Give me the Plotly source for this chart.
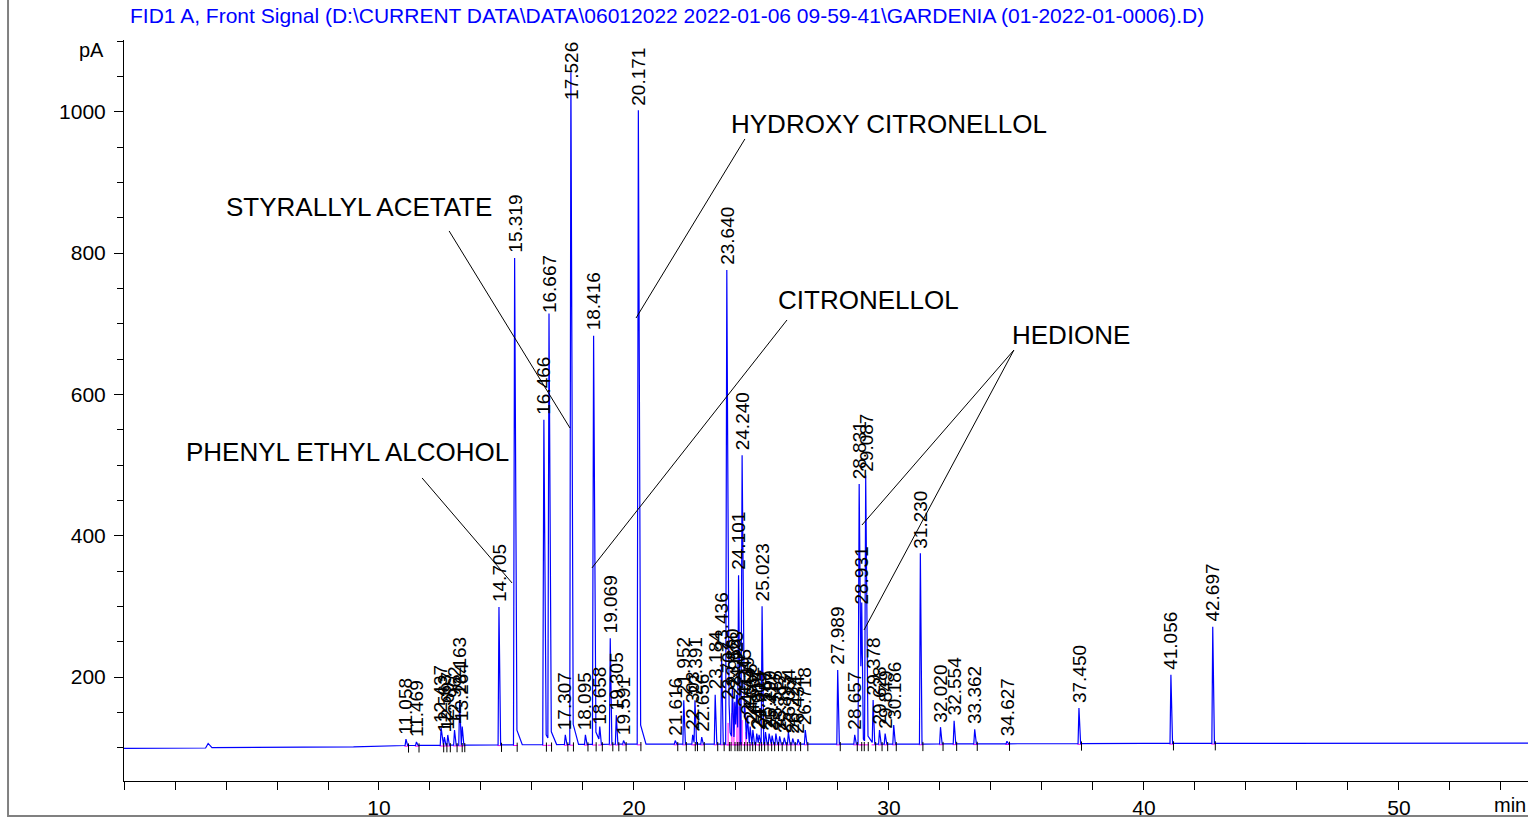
import numpy as np
import plotly.graph_objects as go

TITLE = ("FID1 A, Front Signal (D:\\CURRENT DATA\\DATA\\06012022 2022-01-06 09-59-41"
         "\\GARDENIA (01-2022-01-0006).D)")

# Peak retention times (min) and apex heights (pA)
PEAK_RT = [11.058, 11.469, 12.437, 12.563, 12.697, 12.962, 13.163, 13.264,
           14.705, 15.319, 16.466, 16.667, 17.307, 17.526, 18.095, 18.416,
           18.658, 19.069, 19.305, 19.591, 20.171, 21.616, 21.952, 22.303,
           22.391, 22.656, 23.184, 23.436, 23.640, 23.707, 23.860, 23.953,
           24.023, 24.101, 24.240, 24.345, 24.449, 24.556, 24.662, 24.814,
           24.905, 25.023, 25.157, 25.299, 25.417, 25.565, 25.712, 25.893,
           26.054, 26.224, 26.434, 26.718, 27.989, 28.657, 28.831, 28.931,
           29.087, 29.378, 29.628, 29.849, 30.186, 31.230, 32.020, 32.554,
           33.362, 34.627, 37.450, 41.056, 42.697]
PEAK_PA = [112, 108, 128, 115, 118, 125, 167, 130,
           299, 793, 564, 708, 118, 1056, 118, 683,
           125, 255, 146, 110, 1002, 110, 167, 118,
           167, 115, 175, 230, 776, 160, 180, 165,
           175, 344, 514, 150, 140, 130, 125, 120,
           118, 300, 122, 120, 117, 120, 116, 114,
           122, 113, 112, 125, 210, 118, 473, 295,
           483, 167, 125, 120, 132, 375, 129, 138,
           126, 109, 156, 203, 271]
PEAK_LABELS = ["11.058", "11.469", "12.437", "12.563", "12.697", "12.962", "13.163", "13.264",
               "14.705", "15.319", "16.466", "16.667", "17.307", "17.526", "18.095", "18.416",
               "18.658", "19.069", "19.305", "19.591", "20.171", "21.616", "21.952", "22.303",
               "22.391", "22.656", "23.184", "23.436", "23.640", "23.707", "23.860", "23.953",
               "24.023", "24.101", "24.240", "24.345", "24.449", "24.556", "24.662", "24.814",
               "24.905", "25.023", "25.157", "25.299", "25.417", "25.565", "25.712", "25.893",
               "26.054", "26.224", "26.434", "26.718", "27.989", "28.657", "28.831", "28.931",
               "29.087", "29.378", "29.628", "29.849", "30.186", "31.230", "32.020", "32.554",
               "33.362", "34.627", "37.450", "41.056", "42.697"]

# Baseline (detector drift) knots
BASE_T = [0.0, 3.20, 3.30, 3.45, 9.0, 11.0, 15.0, 20.0, 30.0, 40.0, 55.1]
BASE_PA = [99.0, 99.5, 106.0, 100.0, 101.0, 103.0, 104.0, 105.0, 105.0, 106.0, 106.5]

# Valley drop lines (magenta) in the 23.6-24.4 min cluster
DROP_RT = [23.69, 23.84, 23.92, 24.04, 24.12, 24.24, 24.39]
DROP_PA = [135, 149, 163, 167, 158, 139, 122]

# Compound annotations
COMPOUNDS = ["PHENYL ETHYL ALCOHOL", "STYRALLYL ACETATE", "HYDROXY CITRONELLOL",
             "CITRONELLOL", "HEDIONE"]
COMP_RT = [2.35, 3.92, 23.73, 25.57, 34.75]
COMP_PA = [518, 865, 983, 734, 684]
LEAD_FROM_RT = [11.69, 12.75, 24.35, 26.00, 34.90, 34.90]
LEAD_FROM_PA = [481.7, 831.3, 961.5, 705.3, 662.8, 662.8]
LEAD_TO_RT = [15.22, 17.49, 20.08, 18.35, 28.94, 29.02]
LEAD_TO_PA = [333.0, 552.4, 708.1, 354.3, 415.1, 266.5]

X_RANGE = [0, 55.06]
Y_RANGE = [52.8, 1101.6]
FONT = "Liberation Sans, Arial, sans-serif"

# ---- build signal as piecewise-linear peak profiles on top of baseline ----
profiles = []
for t, h in zip(PEAK_RT, PEAK_PA):
    b = float(np.interp(t, BASE_T, BASE_PA))
    a = h - b
    if h > 400:
        xs = [t - 0.045, t, t + 0.09, t + 0.30]
        ys = [0, a, 0.03 * a, 0]
    else:
        xs = [t - 0.035, t, t + 0.065]
        ys = [0, a, 0]
    profiles.append((xs, ys))

grid = set(BASE_T)
for xs, _ in profiles:
    grid.update(xs)
grid = np.array(sorted(grid))
signal = np.interp(grid, BASE_T, BASE_PA)
for xs, ys in profiles:
    signal = signal + np.interp(grid, xs, ys, left=0, right=0)

fig = go.Figure()

# magenta integration baselines
mx, my = [], []
for t in PEAK_RT:
    b = float(np.interp(t, BASE_T, BASE_PA))
    mx += [t - 0.06, t + 0.12, None]
    my += [b - 1, b - 1, None]
for t, v in zip(DROP_RT, DROP_PA):
    b = float(np.interp(t, BASE_T, BASE_PA))
    mx += [t, t, None]
    my += [b, v, None]
fig.add_trace(go.Scatter(x=mx, y=my, mode="lines", line=dict(color="#ff00ff", width=1),
                         hoverinfo="skip", showlegend=False))

fig.add_trace(go.Scatter(x=grid, y=signal, mode="lines",
                         line=dict(color="#0000ff", width=1.2), showlegend=False))

# peak end tick marks
tx, ty = [], []
for t in PEAK_RT:
    b = float(np.interp(t, BASE_T, BASE_PA))
    tx += [t + 0.1, t + 0.1, None]
    ty += [b + 3, b - 10, None]
fig.add_trace(go.Scatter(x=tx, y=ty, mode="lines", line=dict(color="black", width=1),
                         hoverinfo="skip", showlegend=False))

annotations = []
for t, h, lab in zip(PEAK_RT, PEAK_PA, PEAK_LABELS):
    if h > 1010:
        annotations.append(dict(x=t, y=Y_RANGE[1], text=lab, textangle=-90, showarrow=False,
                                xanchor="center", yanchor="top", yshift=0,
                                font=dict(size=19, family=FONT, color="black")))
    else:
        annotations.append(dict(x=t, y=h, text=lab, textangle=-90, showarrow=False,
                                xanchor="center", yanchor="bottom", yshift=3,
                                font=dict(size=19, family=FONT, color="black")))

for name, t, v in zip(COMPOUNDS, COMP_RT, COMP_PA):
    annotations.append(dict(x=t, y=v, text=name, showarrow=False, xanchor="left",
                            yanchor="middle", font=dict(size=26, family=FONT, color="black")))

annotations.append(dict(xref="paper", yref="paper", x=0.003, y=1.033, text=TITLE,
                        showarrow=False, xanchor="left", yanchor="middle",
                        font=dict(size=21, family=FONT, color="#0000ff")))
annotations.append(dict(xref="paper", yref="y", x=-0.0128, y=1088, text="pA",
                        showarrow=False, xanchor="right", yanchor="middle",
                        font=dict(size=20, family=FONT, color="black")))
annotations.append(dict(xref="paper", yref="paper", x=1.0, y=-0.0324, text="min",
                        showarrow=False, xanchor="right", yanchor="middle",
                        font=dict(size=20, family=FONT, color="black")))

shapes = []
for x0, y0, x1, y1 in zip(LEAD_FROM_RT, LEAD_FROM_PA, LEAD_TO_RT, LEAD_TO_PA):
    shapes.append(dict(type="line", xref="x", yref="y", x0=x0, y0=y0, x1=x1, y1=y1,
                       line=dict(color="black", width=1)))
shapes.append(dict(type="rect", xref="paper", yref="paper", x0=-0.0826, x1=1.02,
                   y0=-0.0472, y1=1.2, line=dict(color="#808080", width=2), layer="below"))

fig.update_layout(
    width=1528, height=818,
    margin=dict(l=124, r=0, t=40, b=37),
    paper_bgcolor="white", plot_bgcolor="white",
    showlegend=False,
    annotations=annotations, shapes=shapes,
    xaxis=dict(range=X_RANGE, showgrid=False, zeroline=False, showline=True,
               linecolor="black", linewidth=1, ticks="outside", ticklen=8,
               tickcolor="black", tickvals=[10, 20, 30, 40, 50],
               tickfont=dict(size=21, family=FONT, color="black"),
               minor=dict(tick0=0, dtick=2, ticks="outside", ticklen=8, tickcolor="black")),
    yaxis=dict(range=Y_RANGE, showgrid=False, zeroline=False, showline=True,
               linecolor="black", linewidth=1, ticks="outside", ticklen=9,
               tickcolor="black", tickvals=[200, 400, 600, 800, 1000],
               ticklabelstandoff=4,
               tickfont=dict(size=21, family=FONT, color="black"),
               minor=dict(tick0=0, dtick=50, ticks="outside", ticklen=6, tickcolor="black")),
)

# remove the browser's default 8px body margin so the figure fills the window exactly
fig.write_html("out.html",
               config={"displayModeBar": False},
               post_script="document.body.style.margin='0';document.body.style.overflow='hidden';")
